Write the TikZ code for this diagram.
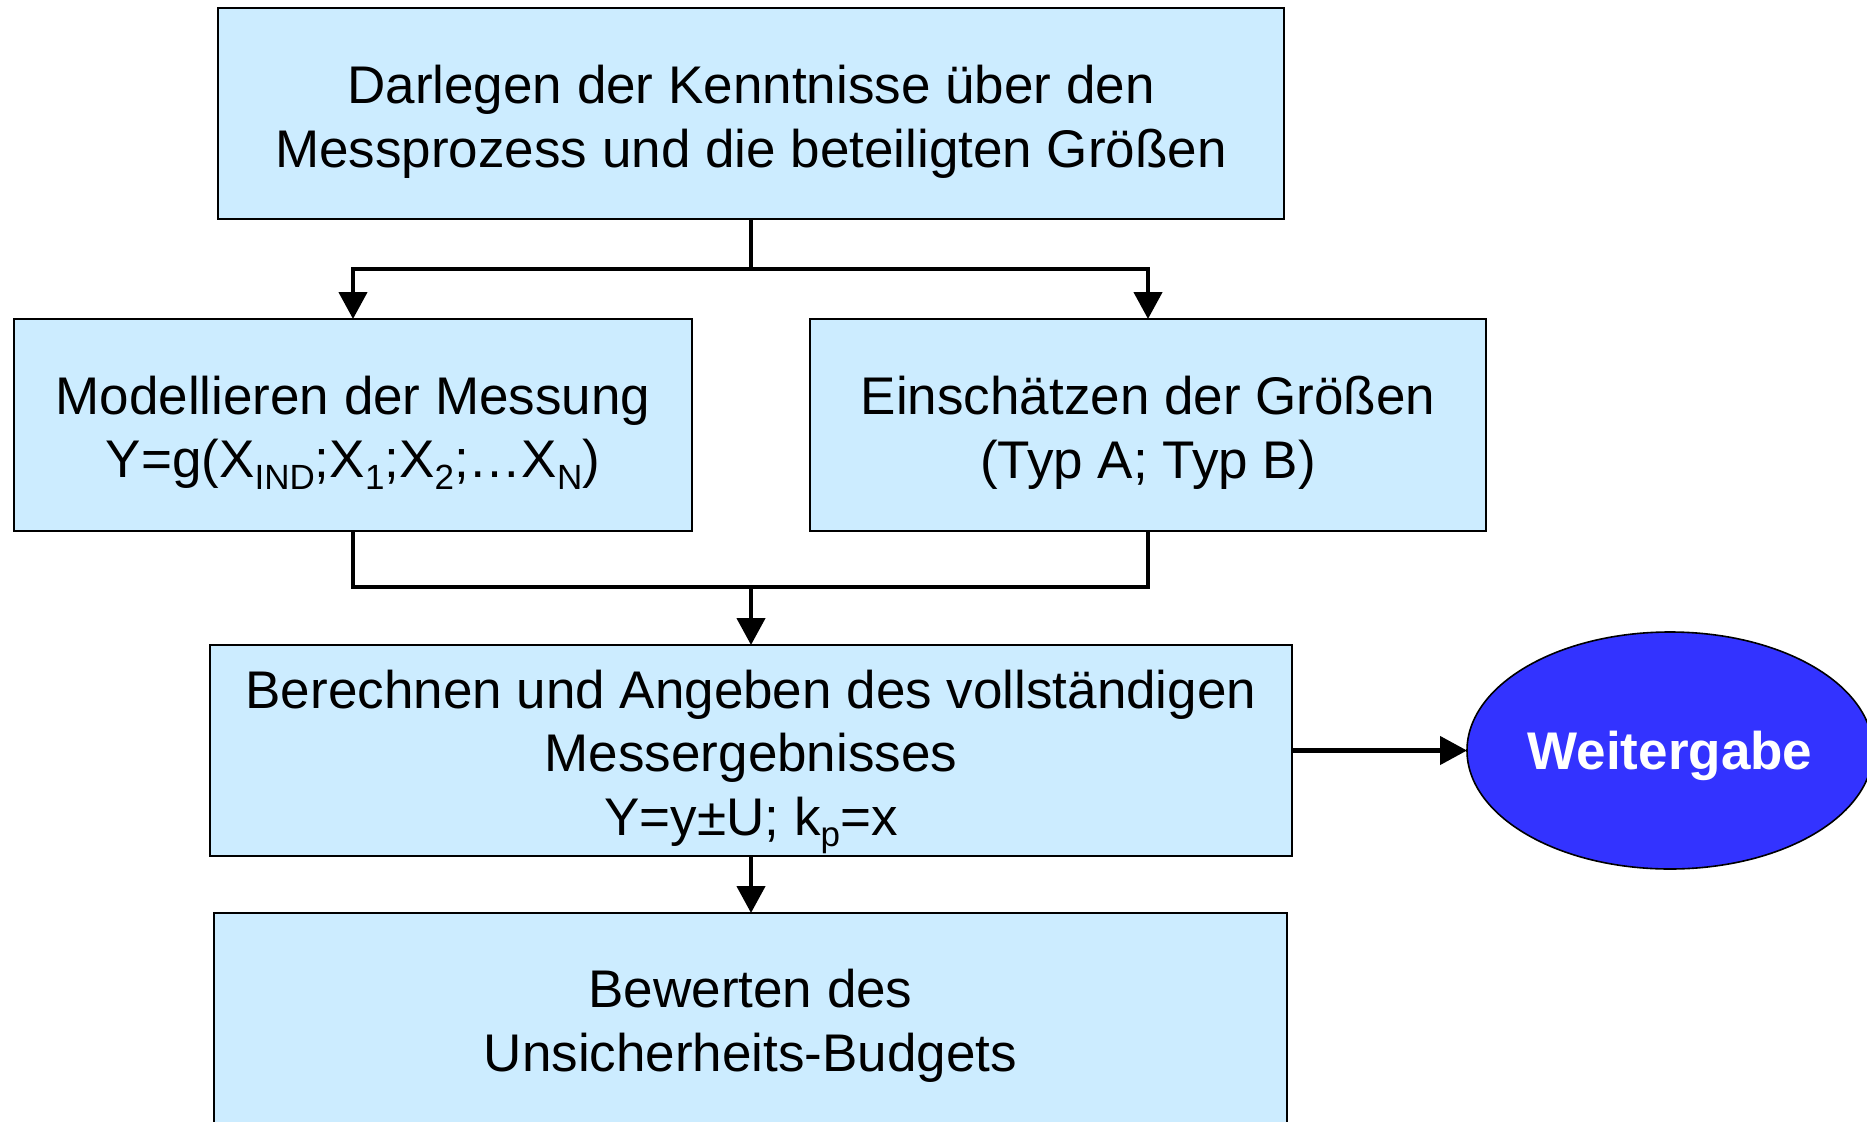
\documentclass[tikz,border=0pt]{standalone}
\usepackage{fontspec}
\setmainfont{Liberation Sans}
\usetikzlibrary{arrows.meta,shapes.geometric}
\definecolor{boxblue}{HTML}{CCECFF}
\definecolor{ellblue}{HTML}{3333FF}
\newcommand\lowsub[1]{\raisebox{-0.22em}{\fontsize{35}{35}\selectfont #1}}
\newcommand\hstrut[1]{\rule{0pt}{#1}}
\tikzset{
  stepbox/.style={draw=black, line width=1.6pt, fill=boxblue, rectangle, align=center,
    inner sep=0pt, outer sep=0pt, font=\fontsize{53}{63.5}\selectfont},
  conn/.style={line width=4.5pt, line join=miter},
  arr/.style={conn, -{Triangle[length=27pt,width=28pt]}},
}
\begin{document}
\begin{tikzpicture}[x=1pt,y=-1pt]
\clip (0,0) rectangle (1867,1121);
\fill[white] (0,0) rectangle (1867,1121);
\node[stepbox, minimum width=1066pt, minimum height=211pt] (top) at (751,113.5)
  {\hstrut{55pt}Darlegen der Kenntnisse über den\\Messprozess und die beteiligten Größen};
\node[stepbox, minimum width=678pt, minimum height=212pt] (left) at (353,425)
  {\hstrut{53.5pt}Modellieren der Messung\\Y=g(X\lowsub{IND};X\lowsub{1};X\lowsub{2};…X\lowsub{N})};
\node[stepbox, minimum width=676pt, minimum height=212pt] (right) at (1148,425)
  {\hstrut{53.5pt}Einschätzen der Größen\\(Typ A; Typ B)};
\node[stepbox, minimum width=1082pt, minimum height=211pt] (mid) at (751,750.5)
  {\hstrut{61pt}Berechnen und Angeben des vollständigen\\Messergebnisses\\Y=y±U; k\lowsub{p}=x};
\node[stepbox, minimum width=1073pt, minimum height=217pt] (bot) at (750.5,1021.5)
  {\hstrut{46.5pt}Bewerten des\\Unsicherheits-Budgets};
\node[ellipse, draw=black, line width=1.6pt, fill=ellblue, minimum width=406pt,
  minimum height=237pt, inner sep=0pt, outer sep=0pt, text=white,
  font=\fontsize{53}{63}\selectfont\bfseries] (weiter) at (1670,750.5) {\hstrut{49pt}Weitergabe};
\coordinate (j1) at (751,269);
\coordinate (j2) at (751,587);
\draw[conn] (top.south) -- (j1);
\draw[arr] (j1) -| (left.north);
\draw[arr] (j1) -| (right.north);
\draw[conn] (left.south) |- (j2);
\draw[conn] (right.south) |- (j2);
\draw[arr] (j2) -- (mid.north);
\draw[arr] (mid.south) -- (mid.south |- bot.north);
\draw[arr] (mid.east) -- (weiter.west);
\end{tikzpicture}
\end{document}
